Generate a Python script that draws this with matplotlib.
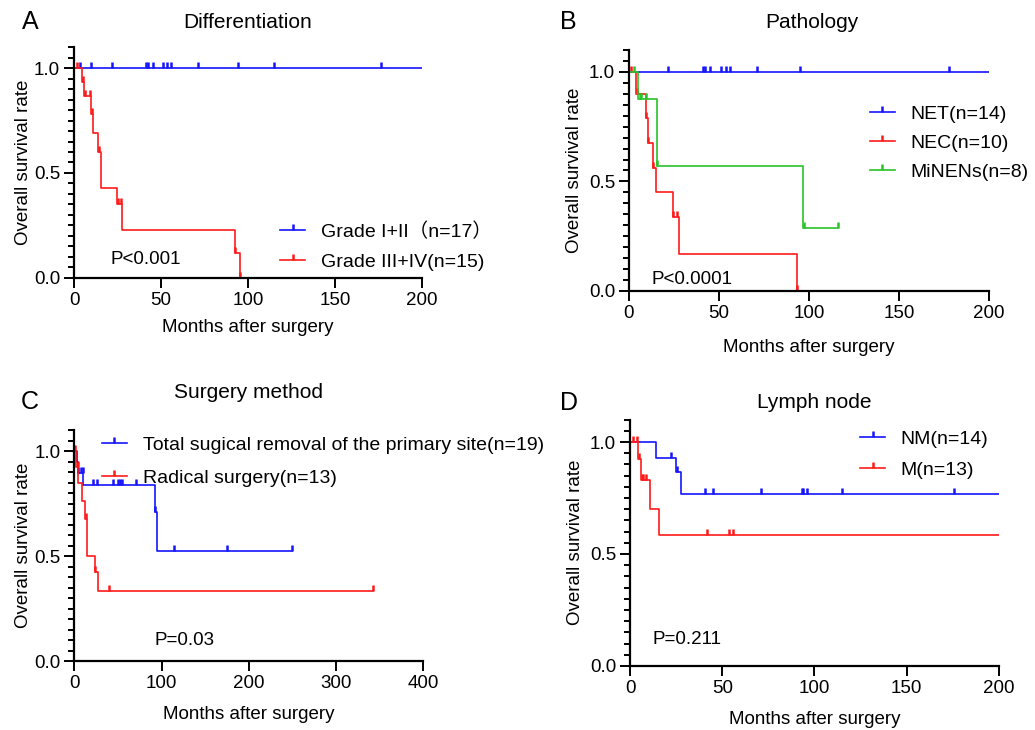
import numpy as np
import matplotlib
matplotlib.use('Agg')
import matplotlib.pyplot as plt
from matplotlib.lines import Line2D
from matplotlib.ticker import MultipleLocator

plt.rcParams['font.family'] = ['Liberation Sans', 'Noto Sans CJK SC', 'DejaVu Sans']

# -----------------------------------------------------------------------------
# Data (months, survival rate)

# A - Differentiation
a_g12_times = [0]
a_g12_surv = [1.0]
a_g12_end = 200
a_g12_cens = [3.4, 9.8, 21.9, 41.5, 42.7, 45.5, 51.3, 53.6, 55.9, 71.5, 94.0, 114.7, 176.4]

a_g34_times = [0, 4.8, 5.7, 9.8, 10.7, 14.0, 15.5, 24.9, 27.8, 92.5, 95.4]
a_g34_surv = [1.0, 0.933, 0.867, 0.78, 0.69, 0.6, 0.43, 0.35, 0.23, 0.117, 0.0]
a_g34_end = 95.4
a_g34_cens = [1.7, 5.0, 6.5, 9.0, 10.2, 14.2, 25.1, 26.8, 92.8, 95.4]

# B - Pathology
b_net_times = [0]
b_net_surv = [1.0]
b_net_end = 200
b_net_cens = [21.8, 41.1, 42.0, 44.8, 51.3, 54.0, 56.3, 71.1, 94.8, 177.8]

b_nec_times = [0, 4.1, 9.5, 10.6, 13.3, 15.2, 24.4, 27.8, 93.5]
b_nec_surv = [1.0, 0.9, 0.788, 0.675, 0.563, 0.45, 0.338, 0.169, 0.0]
b_nec_end = 93.5
b_nec_cens = [1.3, 4.3, 9.7, 10.8, 13.5, 24.6, 26.7, 93.5]

b_min_times = [0, 5.0, 15.6, 96.7]
b_min_surv = [1.0, 0.875, 0.571, 0.286]
b_min_end = 116
b_min_cens = [2.6, 6.2, 6.9, 9.3, 15.8, 97.0, 116.0]

# C - Surgery method
c_tot_times = [0, 3.5, 4.5, 10.4, 92.0, 94.8]
c_tot_surv = [1.0, 0.947, 0.895, 0.836, 0.711, 0.522]
c_tot_end = 250
c_tot_cens = [4.6, 7.3, 9.6, 21.8, 26.4, 44.1, 50.6, 52.5, 54.5, 70.9, 92.3, 114.6, 175.2, 250]

c_rad_times = [0, 2.0, 4.6, 8.5, 12.3, 15.0, 23.8, 27.6]
c_rad_surv = [1.0, 0.923, 0.846, 0.763, 0.677, 0.5, 0.422, 0.333]
c_rad_end = 342
c_rad_cens = [0.8, 3.8, 13.0, 24.0, 40.0, 342]

# D - Lymph node
d_nm_times = [0, 13.9, 24.8, 27.5]
d_nm_surv = [1.0, 0.929, 0.866, 0.766]
d_nm_end = 200
d_nm_cens = [22.1, 25.5, 40.7, 44.9, 70.9, 93.2, 93.9, 95.9, 114.9, 175.8]

d_m_times = [0, 4.5, 5.8, 10.9, 15.9]
d_m_surv = [1.0, 0.923, 0.83, 0.703, 0.585]
d_m_end = 200
d_m_cens = [1.4, 3.6, 4.9, 6.3, 7.2, 8.7, 42.0, 53.9, 56.0]

BLUE = '#1515ff'
RED = '#ff1a1a'
GREEN = '#28c428'

# -----------------------------------------------------------------------------

def km(ax, times, surv, end, cens, color):
    t = list(times) + [end]
    s = list(surv) + [surv[-1]]
    ax.step(t, s, where='post', color=color, lw=1.2)
    idx = np.searchsorted(times, cens, side='right') - 1
    ax.plot(cens, np.array(surv)[idx], ls='none', marker=2, ms=4.5, mew=1.8,
            color=color, clip_on=False)


def style(ax, xmax, xstep, xpad, ypad):
    ax.set_xlim(0, xmax)
    ax.set_ylim(0, 1.1)
    ax.xaxis.set_major_locator(MultipleLocator(xstep))
    ax.yaxis.set_minor_locator(MultipleLocator(0.05))
    ax.set_yticks([0, 0.5, 1.0])
    ax.set_yticklabels(['0.0', '0.5', '1.0'])
    for sp in ['top', 'right']:
        ax.spines[sp].set_visible(False)
    for sp in ['left', 'bottom']:
        ax.spines[sp].set_linewidth(1.6)
    ax.tick_params(which='major', direction='out', length=7, width=1.4, labelsize=13.5, pad=3)
    ax.tick_params(which='minor', direction='out', length=4, width=1.4)
    ax.set_xlabel('Months after surgery', fontsize=13.5, labelpad=xpad)
    ax.set_ylabel('Overall survival rate', fontsize=13.5, labelpad=ypad)


def legend(ax, colors, labels, x, y, spacing):
    handles = [Line2D([], [], color=c, lw=1.2, marker=2, ms=4.5, mew=1.8) for c in colors]
    ax.legend(handles, labels, loc='upper left', bbox_to_anchor=(x, y), frameon=False,
              fontsize=14, handlelength=1.3, handletextpad=0.8, borderpad=0,
              borderaxespad=0, labelspacing=spacing)


fig = plt.figure(figsize=(10.35, 7.3), dpi=100)

axA = fig.add_axes([0.0715, 0.6192, 0.3362, 0.3164])
axB = fig.add_axes([0.6077, 0.6014, 0.3478, 0.3301])
axC = fig.add_axes([0.0718, 0.0945, 0.3372, 0.3164])
axD = fig.add_axes([0.6087, 0.0877, 0.3565, 0.3375])

# A
km(axA, a_g12_times, a_g12_surv, a_g12_end, a_g12_cens, BLUE)
km(axA, a_g34_times, a_g34_surv, a_g34_end, a_g34_cens, RED)
style(axA, 200, 50, 7.6, 1.5)
legend(axA, [BLUE, RED], ['Grade I+II（n=17）', 'Grade III+IV(n=15)'], 0.592, 0.241, 0.65)
axA.text(0.106, 0.08, 'P<0.001', transform=axA.transAxes, fontsize=13.5, va='center')

# B
km(axB, b_net_times, b_net_surv, b_net_end, b_net_cens, BLUE)
km(axB, b_nec_times, b_nec_surv, b_nec_end, b_nec_cens, RED)
km(axB, b_min_times, b_min_surv, b_min_end, b_min_cens, GREEN)
style(axB, 200, 50, 12.6, 4.5)
legend(axB, [BLUE, RED, GREEN], ['NET(n=14)', 'NEC(n=10)', 'MiNENs(n=8)'], 0.669, 0.772, 0.6)
axB.text(0.062, 0.047, 'P<0.0001', transform=axB.transAxes, fontsize=13.5, va='center')

# C
km(axC, c_tot_times, c_tot_surv, c_tot_end, c_tot_cens, BLUE)
km(axC, c_rad_times, c_rad_surv, c_rad_end, c_rad_cens, RED)
style(axC, 400, 100, 10.5, 1.5)
legend(axC, [BLUE, RED], ['Total sugical removal of the primary site(n=19)', 'Radical surgery(n=13)'],
       0.0785, 0.974, 0.81)
axC.text(0.231, 0.088, 'P=0.03', transform=axC.transAxes, fontsize=13.5, va='center')

# D
km(axD, d_nm_times, d_nm_surv, d_nm_end, d_nm_cens, BLUE)
km(axD, d_m_times, d_m_surv, d_m_end, d_m_cens, RED)
style(axD, 200, 50, 10.5, 4.5)
legend(axD, [BLUE, RED], ['NM(n=14)', 'M(n=13)'], 0.623, 0.958, 0.7)
axD.text(0.062, 0.107, 'P=0.211', transform=axD.transAxes, fontsize=13.5, va='center')

# Titles and panel letters
fig.text(248 / 1035, 1 - 22 / 730, 'Differentiation', ha='center', va='center', fontsize=15)
fig.text(812 / 1035, 1 - 22 / 730, 'Pathology', ha='center', va='center', fontsize=15)
fig.text(248 / 1035, 1 - 393 / 730, 'Surgery method', ha='center', va='center', fontsize=15)
fig.text(814 / 1035, 1 - 403 / 730, 'Lymph node', ha='center', va='center', fontsize=15)
for letter, x, y in [('A', 30, 22), ('B', 568, 22), ('C', 30, 402), ('D', 569, 403)]:
    fig.text(x / 1035, 1 - y / 730, letter, ha='center', va='center', fontsize=18)

fig.savefig('out.png', dpi=100)
